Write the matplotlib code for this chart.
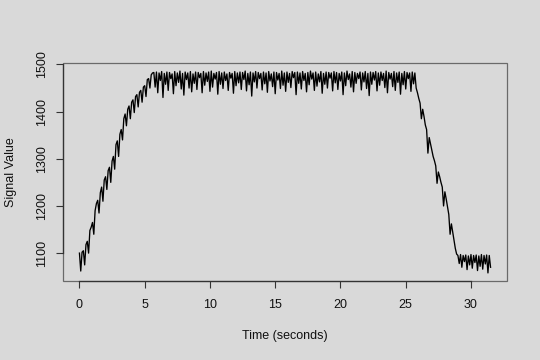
import numpy as np
import matplotlib
matplotlib.use("Agg")
import matplotlib.pyplot as plt
from matplotlib.patches import Rectangle

# ---- data (signal sampled every 0.1 s starting at 0 s) ----
t_start = 0.0
dt = 0.1

rise_values = [
    1100, 1062, 1102, 1105, 1075, 1118, 1125, 1100, 1148, 1155,
    1165, 1140, 1190, 1205, 1212, 1185, 1228, 1240, 1210, 1255,
    1262, 1235, 1275, 1282, 1250, 1295, 1305, 1278, 1330, 1338,
    1305, 1352, 1362, 1340, 1385, 1395, 1370, 1405, 1412, 1385,
    1420, 1425, 1398, 1432, 1436, 1410, 1441, 1445, 1420, 1452,
    1455, 1432, 1468, 1470, 1450, 1478, 1482,
]

plateau_values = [
    1483, 1452, 1484, 1440, 1482, 1466, 1485, 1430, 1481, 1458,
    1484, 1445, 1483, 1470, 1480, 1438, 1485, 1455, 1482, 1462,
    1486, 1448, 1481, 1435, 1484, 1468, 1482, 1450, 1485, 1442,
    1480, 1460, 1484, 1447, 1483, 1472, 1481, 1440, 1485, 1456,
    1482, 1464, 1484, 1443, 1486, 1452, 1481, 1469, 1483, 1437,
    1485, 1458, 1482, 1449, 1484, 1466, 1480, 1445, 1483, 1471,
    1481, 1439, 1485, 1455, 1482, 1461, 1484, 1447, 1483, 1468,
    1486, 1444, 1481, 1457, 1484, 1433, 1482, 1463, 1485, 1450,
    1483, 1470, 1481, 1446, 1484, 1459, 1482, 1441, 1485, 1465,
    1480, 1453, 1484, 1438, 1483, 1467, 1481, 1449, 1486, 1456,
    1482, 1443, 1484, 1462, 1481, 1451, 1485, 1472, 1483, 1436,
    1484, 1460, 1482, 1448, 1485, 1466, 1481, 1442, 1483, 1457,
    1486, 1469, 1482, 1445, 1484, 1454, 1480, 1463, 1485, 1439,
    1481, 1458, 1484, 1450, 1483, 1471, 1482, 1444, 1485, 1461,
    1483, 1447, 1481, 1465, 1484, 1436, 1482, 1455, 1486, 1468,
    1480, 1452, 1485, 1442, 1483, 1460, 1481, 1470, 1484, 1446,
    1482, 1463, 1485, 1449, 1481, 1434, 1484, 1458, 1483, 1467,
    1485, 1444, 1482, 1456, 1484, 1466, 1481, 1451, 1486, 1440,
    1483, 1469, 1481, 1453, 1485, 1445, 1482, 1462, 1484, 1437,
    1481, 1457, 1485, 1448, 1483, 1470, 1482, 1443, 1484, 1459,
    1482, 1450,
]

fall_values = [
    1440, 1428, 1418, 1385, 1405, 1390, 1372, 1362, 1312, 1345,
    1332, 1318, 1305, 1296, 1285, 1248, 1272, 1262, 1250, 1240,
    1200, 1230, 1215, 1198, 1182, 1140, 1162, 1145, 1128, 1110,
    1098,
]

low_values = [
    1095, 1078, 1097, 1070, 1095, 1082, 1096, 1065, 1094, 1075,
    1097, 1068, 1095, 1080, 1096, 1063, 1094, 1072, 1097, 1066,
    1095, 1077, 1096, 1058, 1095, 1070,
]

x_ticks = [0, 5, 10, 15, 20, 25, 30]
y_ticks = [1100, 1200, 1300, 1400, 1500]
x_label = "Time (seconds)"
y_label = "Signal Value"

signal = np.array(rise_values + plateau_values + fall_values + low_values, dtype=float)
time = t_start + dt * np.arange(len(signal))

# ---- figure ----
bg = "#d9d9d9"
plt.rcParams["font.family"] = ["Liberation Sans", "DejaVu Sans"]
fig = plt.figure(figsize=(5.4, 3.6), dpi=100, facecolor=bg)
ax = fig.add_axes([63 / 540, 1 - 281 / 360, (507 - 63) / 540, (281 - 63) / 360])
ax.set_facecolor(bg)

ax.plot(time, signal, color="black", lw=0.95)

# R-style 4% padding
xr = time.max() - time.min()
yr = signal.max() - signal.min()
ax.set_xlim(time.min() - 0.04 * xr, time.max() + 0.04 * xr)
ax.set_ylim(signal.min() - 0.04 * yr, signal.max() + 0.04 * yr)

ax.set_xticks(x_ticks)
ax.set_yticks(y_ticks)
ax.set_xticklabels([str(v) for v in x_ticks])
ax.set_yticklabels([str(v) for v in y_ticks], rotation=90, va="center")

for s in ["top", "right"]:
    ax.spines[s].set_visible(False)
ax.spines["bottom"].set_bounds(x_ticks[0], x_ticks[-1])
ax.spines["left"].set_bounds(y_ticks[0], y_ticks[-1])
for s in ["bottom", "left"]:
    ax.spines[s].set_color("#333333")
    ax.spines[s].set_linewidth(0.9)
ax.add_patch(Rectangle((0, 0), 1, 1, transform=ax.transAxes, fill=False,
                       edgecolor="#6a6a6a", lw=0.9, clip_on=False, zorder=0.5))

ax.tick_params(axis="both", direction="out", length=5, width=0.8,
               color="#333333", labelsize=9, labelcolor="#111111")
ax.tick_params(axis="x", pad=8)
ax.tick_params(axis="y", pad=5.5)

ax.set_xlabel(x_label, fontsize=9, color="#111111", labelpad=14)
ax.set_ylabel(y_label, fontsize=9, color="#111111", labelpad=14)

fig.savefig("out.png", dpi=100, facecolor=bg)
